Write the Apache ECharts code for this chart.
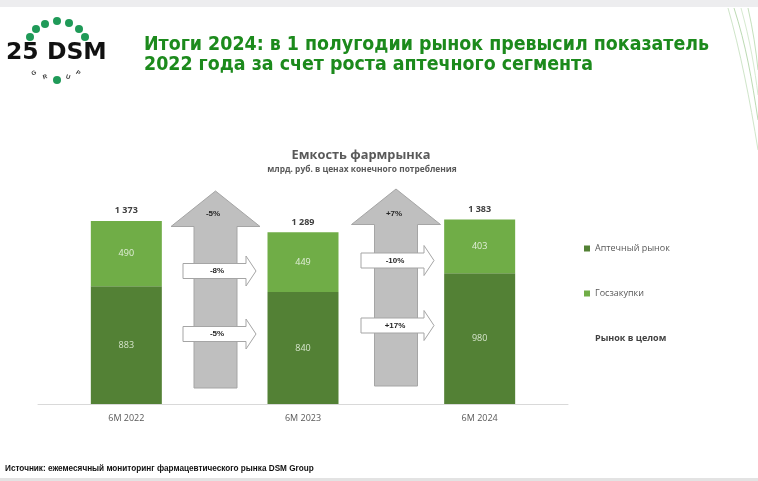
<!DOCTYPE html>
<html>
<head>
<meta charset="utf-8">
<script src="https://cdn.jsdelivr.net/npm/echarts@6/dist/echarts.min.js"></script>
<style>html,body{margin:0;padding:0;background:#fff;}#c{width:758px;height:481px;}</style>
</head>
<body>
<div id="c"></div>
<script>
const categories = ['6M 2022', '6M 2023', '6M 2024'];
const pharmacy = [883, 840, 980];
const government = [490, 449, 403];
const totals = [1373, 1289, 1383];
const totalChange = ['-5%', '+7%'];
const govChange = ['-8%', '-10%'];
const pharmChange = ['-5%', '+17%'];
const seriesNames = ['Аптечный рынок', 'Госзакупки', 'Рынок в целом'];

const fmt = v => String(v).replace(/\B(?=(\d{3})+(?!\d))/g, ' ');
const chart = echarts.init(document.getElementById('c'), null, {renderer: 'canvas'});

function grayArrow(cx, tip, headBase, bottom) {
  const hw = 44.5, sw = 21.5;
  return {
    type: 'polygon', z: 10,
    shape: {points: [[cx, tip], [cx + hw, headBase], [cx + sw, headBase], [cx + sw, bottom], [cx - sw, bottom], [cx - sw, headBase], [cx - hw, headBase]]},
    style: {fill: '#bfbfbf', stroke: '#a5a5a5', lineWidth: 1}
  };
}
function whiteArrow(x0, cy, label) {
  const bodyEnd = x0 + 63, tip = x0 + 73, bh = 7.5, hh = 15;
  return [{
    type: 'polygon', z: 11,
    shape: {points: [[x0, cy - bh], [bodyEnd, cy - bh], [bodyEnd, cy - hh], [tip, cy], [bodyEnd, cy + hh], [bodyEnd, cy + bh], [x0, cy + bh]]},
    style: {fill: '#ffffff', stroke: '#a5a5a5', lineWidth: 1}
  }, {
    type: 'text', z: 12, x: x0 + 34, y: cy,
    style: {text: label, fill: '#262626', font: 'bold 8px "Liberation Sans", Arial, sans-serif', textAlign: 'center', textVerticalAlign: 'middle'}
  }];
}

const graphics = [
  {type: 'rect', shape: {x: 0, y: 0, width: 758, height: 7}, style: {fill: '#ededef'}},
  {type: 'rect', shape: {x: 0, y: 478, width: 758, height: 3}, style: {fill: '#e3e3e3'}},
  // right decoration curves
  {type: 'bezierCurve', shape: {x1: 728, y1: 8, x2: 758, y2: 150, cpx1: 740, cpy1: 50, cpx2: 750, cpy2: 100}, style: {stroke: '#cfe5c9', lineWidth: 1, fill: null}},
  {type: 'bezierCurve', shape: {x1: 734, y1: 8, x2: 758, y2: 120, cpx1: 746, cpy1: 45, cpx2: 752, cpy2: 80}, style: {stroke: '#bcdab3', lineWidth: 1, fill: null}},
  {type: 'bezierCurve', shape: {x1: 741, y1: 8, x2: 758, y2: 95, cpx1: 750, cpy1: 40, cpx2: 755, cpy2: 70}, style: {stroke: '#d6ead0', lineWidth: 1, fill: null}},
  {type: 'bezierCurve', shape: {x1: 748, y1: 8, x2: 758, y2: 70, cpx1: 753, cpy1: 30, cpx2: 756, cpy2: 50}, style: {stroke: '#c5e0bd', lineWidth: 1, fill: null}},
  // logo
  {type: 'text', x: 6, y: 52.5, style: {text: '25 DSM', fill: '#111', font: 'bold 23.5px "DejaVu Sans", sans-serif', textVerticalAlign: 'middle'}},
  {type: 'text', x: 34, y: 73, rotation: 0.6, style: {text: 'G', fill: '#333', font: 'bold 6px "Liberation Sans", sans-serif', textAlign: 'center', textVerticalAlign: 'middle'}},
  {type: 'text', x: 45, y: 77, rotation: 0.3, style: {text: 'R', fill: '#333', font: 'bold 6px "Liberation Sans", sans-serif', textAlign: 'center', textVerticalAlign: 'middle'}},
  {type: 'text', x: 68, y: 77, rotation: -0.3, style: {text: 'U', fill: '#333', font: 'bold 6px "Liberation Sans", sans-serif', textAlign: 'center', textVerticalAlign: 'middle'}},
  {type: 'text', x: 78, y: 73, rotation: -0.6, style: {text: 'P', fill: '#333', font: 'bold 6px "Liberation Sans", sans-serif', textAlign: 'center', textVerticalAlign: 'middle'}},
  // title
  {type: 'text', x: 144, y: 45, style: {text: 'Итоги 2024: в 1 полугодии рынок превысил показатель', fill: '#1c8a1c', font: 'bold 19.4px "DejaVu Sans Condensed", "DejaVu Sans", sans-serif', textVerticalAlign: 'middle'}},
  {type: 'text', x: 144, y: 64.5, style: {text: '2022 года за счет роста аптечного сегмента', fill: '#1c8a1c', font: 'bold 19.4px "DejaVu Sans Condensed", "DejaVu Sans", sans-serif', textVerticalAlign: 'middle'}},
  // chart titles
  {type: 'text', x: 361, y: 155, style: {text: 'Емкость фармрынка', fill: '#595959', font: 'bold 12.8px "Open Sans", "Liberation Sans", sans-serif', textAlign: 'center', textVerticalAlign: 'middle'}},
  {type: 'text', x: 362, y: 170, style: {text: 'млрд. руб. в ценах конечного потребления', fill: '#595959', font: 'bold 8.4px "Open Sans", "Liberation Sans", sans-serif', textAlign: 'center', textVerticalAlign: 'middle'}},
  // source
  {type: 'text', x: 5, y: 469, style: {text: 'Источник: ежемесячный мониторинг фармацевтического рынка DSM Group', fill: '#111', font: 'bold 8.2px "Liberation Sans", Arial, sans-serif', textVerticalAlign: 'middle'}},
  // arrows
  grayArrow(215.5, 191, 226.5, 388),
  {type: 'text', z: 12, x: 213, y: 214, style: {text: totalChange[0], fill: '#262626', font: 'bold 8px "Liberation Sans", sans-serif', textAlign: 'center', textVerticalAlign: 'middle'}},
  grayArrow(396, 189, 224.5, 386),
  {type: 'text', z: 12, x: 394, y: 214, style: {text: totalChange[1], fill: '#262626', font: 'bold 8px "Liberation Sans", sans-serif', textAlign: 'center', textVerticalAlign: 'middle'}},
  ...whiteArrow(183, 271, govChange[0]),
  ...whiteArrow(183, 334, pharmChange[0]),
  ...whiteArrow(361, 260.5, govChange[1]),
  ...whiteArrow(361, 325.5, pharmChange[1])
];
// logo dots
[[30,37],[36,29],[45,24],[57,21],[69,23],[79,29],[85,37],[57,80]].forEach(p => graphics.push({type: 'circle', shape: {cx: p[0], cy: p[1], r: 4}, style: {fill: '#1f9a58'}}));

const option = {
  backgroundColor: '#ffffff',
  animation: false,
  textStyle: {fontFamily: '"Open Sans", "Liberation Sans", sans-serif'},
  grid: {left: 38, right: 190, top: 204, bottom: 77},
  legend: {
    orient: 'vertical', left: 579, top: 239, itemWidth: 6, itemHeight: 6, itemGap: 36,
    textStyle: {fontSize: 9, color: '#595959'},
    data: [
      {name: seriesNames[0], icon: 'rect'},
      {name: seriesNames[1], icon: 'rect'},
      {name: seriesNames[2], icon: 'none', textStyle: {fontWeight: 'bold', color: '#404040'}}
    ],
    selectedMode: false
  },
  xAxis: {
    type: 'category', data: categories,
    axisLine: {lineStyle: {color: '#d9d9d9'}}, axisTick: {show: false},
    axisLabel: {color: '#595959', fontSize: 9, margin: 10}
  },
  yAxis: {type: 'value', min: 0, max: 1500, show: false, splitLine: {show: false}},
  series: [
    {name: seriesNames[0], type: 'bar', stack: 't', data: pharmacy, barWidth: 71, itemStyle: {color: '#538135'},
     label: {show: true, position: 'inside', color: '#d7e6cd', fontSize: 9}},
    {name: seriesNames[1], type: 'bar', stack: 't', data: government, barWidth: 71, itemStyle: {color: '#70ad47'},
     label: {show: true, position: 'inside', color: '#e2efda', fontSize: 9}},
    {name: seriesNames[2], type: 'line', data: totals, symbol: 'circle', symbolSize: 1,
     itemStyle: {color: 'rgba(0,0,0,0)'}, lineStyle: {opacity: 0}, z: 5,
     label: {show: true, position: 'top', distance: 5, color: '#404040', fontSize: 9, fontWeight: 'bold', formatter: p => fmt(p.value)}}
  ],
  graphic: graphics
};
chart.setOption(option);
</script>
</body>
</html>
